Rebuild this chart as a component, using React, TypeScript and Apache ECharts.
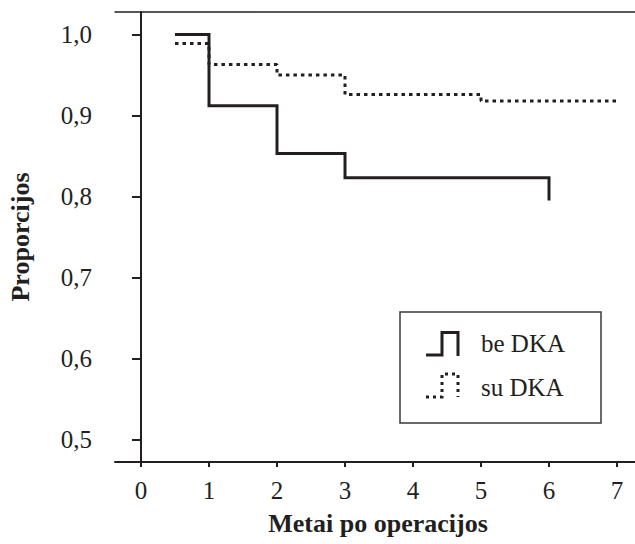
import React, { useEffect, useRef } from "react";
import * as echarts from "echarts";

const xTicks = [0, 1, 2, 3, 4, 5, 6, 7];
const yTicks = [0.5, 0.6, 0.7, 0.8, 0.9, 1.0];

const beDkaTimes = [0.5, 1, 2, 3, 6];
const beDkaValues = [1.0, 0.912, 0.853, 0.823, 0.795];

const suDkaTimes = [0.5, 1, 2, 3, 5, 7];
const suDkaValues = [0.989, 0.963, 0.95, 0.926, 0.918, 0.918];

const seriesNames = ["be DKA", "su DKA"];
const xTitle = "Metai po operacijos";
const yTitle = "Proporcijos";

const INK = "#231f20";
const FONT = "'Liberation Serif', 'Times New Roman', serif";

export default function App() {
  const ref = useRef<HTMLDivElement>(null);

  useEffect(() => {
    if (!ref.current) return;
    const chart = echarts.init(ref.current, undefined, { renderer: "svg" });

    const xMin = -26 / 68;
    const xMax = xMin + 520 / 68;
    const pxPerY = 809.6;
    const yMax = 1.0 + 22.5 / pxPerY;
    const yMin = yMax - 450 / pxPerY;

    const toPairs = (t: number[], v: number[]) => t.map((x, i) => [x, v[i]]);

    chart.setOption({
      animation: false,
      backgroundColor: "#fff",
      textStyle: { fontFamily: FONT },
      grid: { left: 115, top: 12, right: 0, bottom: 82 },
      xAxis: [
        {
          type: "value",
          min: xMin,
          max: xMax,
          axisLine: { show: true, lineStyle: { color: INK, width: 2 } },
          axisTick: {
            show: true,
            customValues: xTicks,
            length: 5,
            lineStyle: { color: INK, width: 2 },
          },
          axisLabel: {
            customValues: xTicks,
            formatter: (v: number) => String(Math.round(v)),
            color: INK,
            fontSize: 25,
            fontFamily: FONT,
            margin: 16,
          },
          splitLine: { show: false },
        },
        {
          type: "value",
          position: "top",
          min: xMin,
          max: xMax,
          axisLine: { show: true, lineStyle: { color: INK, width: 1.5 } },
          axisTick: { show: false },
          axisLabel: { show: false },
          splitLine: { show: false },
        },
      ],
      yAxis: {
        type: "value",
        min: yMin,
        max: yMax,
        axisLine: { show: true, lineStyle: { color: INK, width: 2 } },
        axisTick: {
          show: true,
          customValues: yTicks,
          length: 9,
          lineStyle: { color: INK, width: 2 },
        },
        axisLabel: {
          customValues: yTicks,
          formatter: (v: number) => v.toFixed(1).replace(".", ","),
          color: INK,
          fontSize: 25,
          fontFamily: FONT,
          margin: 23,
        },
        splitLine: { show: false },
      },
      series: [
        {
          name: seriesNames[0],
          type: "line",
          step: "end",
          symbol: "none",
          data: toPairs(beDkaTimes, beDkaValues),
          lineStyle: { color: INK, width: 3, cap: "butt", join: "miter" },
        },
        {
          name: seriesNames[1],
          type: "line",
          step: "end",
          symbol: "none",
          data: toPairs(suDkaTimes, suDkaValues),
          lineStyle: { color: INK, width: 3, type: [3.5, 4], cap: "butt" },
        },
      ],
      graphic: [
        {
          type: "text",
          x: 20,
          y: 237,
          rotation: Math.PI / 2,
          style: {
            text: yTitle,
            font: `bold 26px ${FONT}`,
            fill: INK,
            align: "center",
            verticalAlign: "middle",
          },
        },
        {
          type: "text",
          x: 378,
          y: 523,
          style: {
            text: xTitle,
            font: `bold 26px ${FONT}`,
            fill: INK,
            align: "center",
            verticalAlign: "middle",
          },
        },
        {
          type: "rect",
          shape: { x: 400, y: 312, width: 201, height: 111 },
          style: { fill: "#fff", stroke: "#3a3a3a", lineWidth: 1.5 },
        },
        {
          type: "polyline",
          shape: { points: [[426, 355], [442, 355], [442, 332.5], [458, 332.5], [458, 356]] },
          style: { stroke: INK, lineWidth: 3, fill: "none" },
        },
        {
          type: "polyline",
          shape: { points: [[426, 397], [442, 397], [442, 374], [458, 374], [458, 397]] },
          style: { stroke: INK, lineWidth: 3, fill: "none", lineDash: [3, 4] },
        },
        {
          type: "text",
          x: 481,
          y: 343,
          style: {
            text: seriesNames[0],
            font: `25px ${FONT}`,
            fill: INK,
            align: "left",
            verticalAlign: "middle",
          },
        },
        {
          type: "text",
          x: 481,
          y: 387,
          style: {
            text: seriesNames[1],
            font: `25px ${FONT}`,
            fill: INK,
            align: "left",
            verticalAlign: "middle",
          },
        },
      ],
    });

    return () => chart.dispose();
  }, []);

  return (
    <div
      ref={ref}
      style={{ position: "fixed", left: 0, top: 0, width: 635, height: 544, background: "#fff" }}
    />
  );
}
